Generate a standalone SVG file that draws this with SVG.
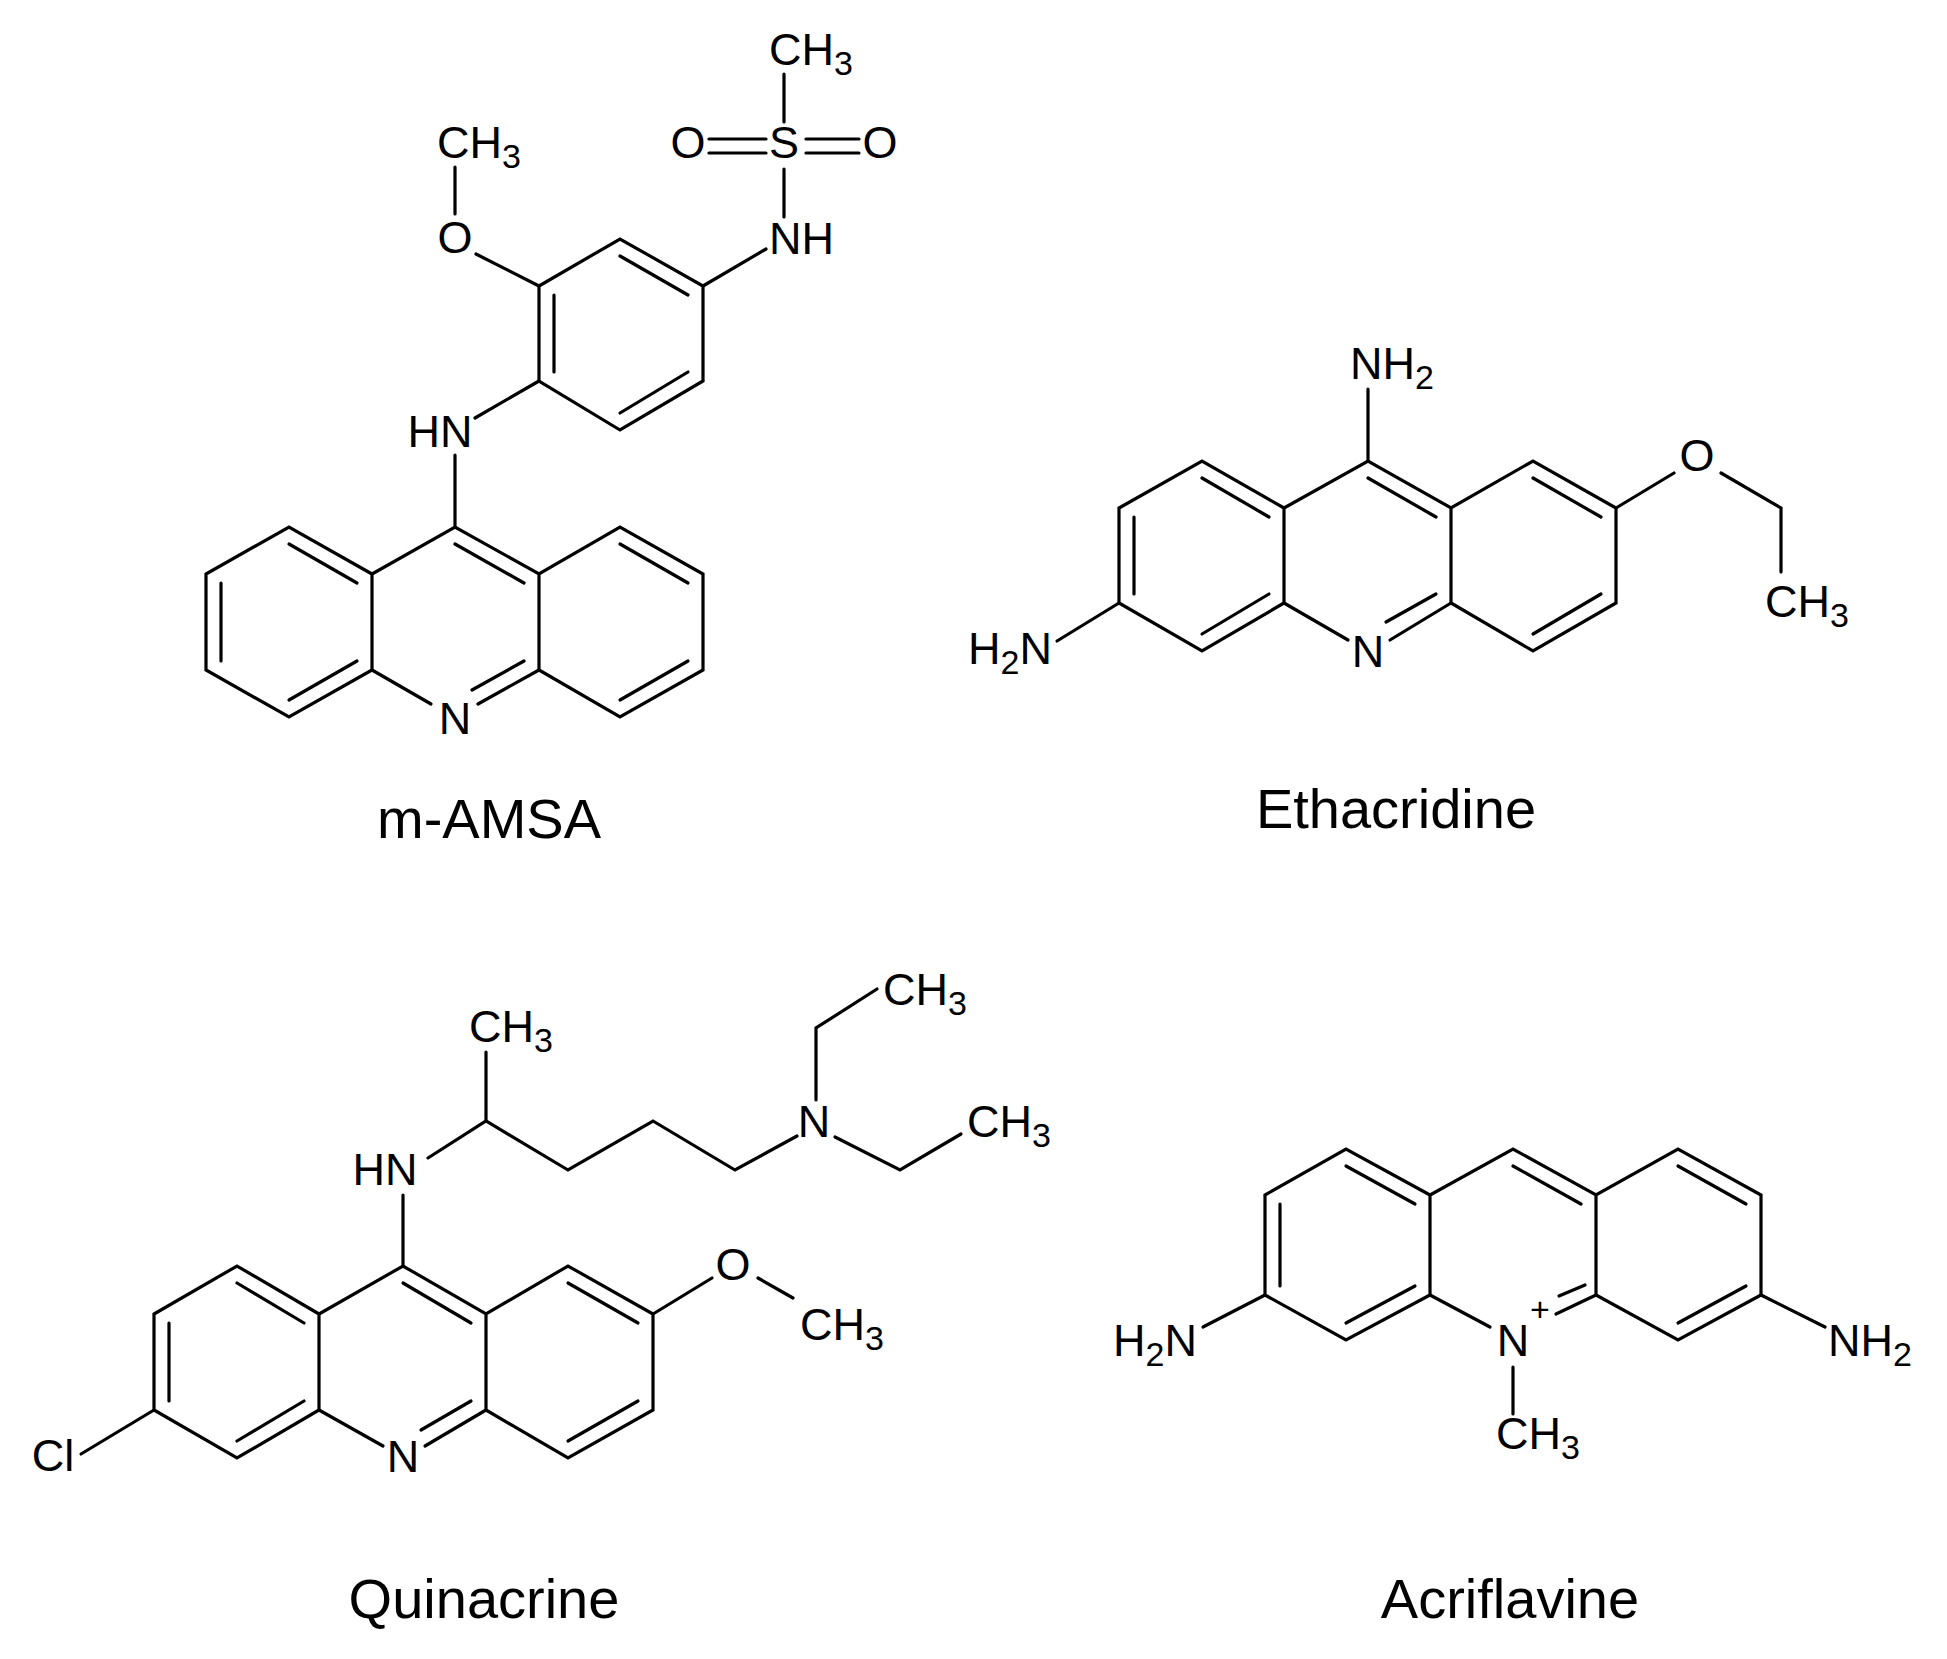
<svg xmlns="http://www.w3.org/2000/svg" width="1947" height="1659" viewBox="0 0 1947 1659">
<style>
line,polyline{stroke:#000;stroke-width:3.2;fill:none;stroke-linecap:round}
text{font-family:"Liberation Sans",Arial,sans-serif;font-size:45px;fill:#000}
.s{font-size:34px}
.t{font-size:56px;text-anchor:middle}
.m{text-anchor:middle}
.e{text-anchor:end}
</style>
<rect width="1947" height="1659" fill="#fff"/>
<g id="mamsa">
<g class="bonds">
<polyline points="372,574 289,527 206,574 206,670 289,717 372,670 372,574 455,527 539,574 620,527 703,574 703,670 620,717 539,670 539,574"/>
<line x1="372" y1="670" x2="431" y2="704"/><line x1="539" y1="670" x2="478" y2="704"/>
<line x1="289" y1="544" x2="357" y2="583"/><line x1="221" y1="583" x2="221" y2="661"/><line x1="289" y1="700" x2="357" y2="661"/>
<line x1="455" y1="544" x2="524" y2="583"/><line x1="472" y1="690" x2="524" y2="661"/>
<line x1="620" y1="544" x2="688" y2="583"/><line x1="688" y1="661" x2="620" y2="700"/>
<line x1="455" y1="527" x2="455" y2="455"/>
<polyline points="539,286 620,239 703,286 703,381 620,430 539,381 539,286"/>
<line x1="554" y1="295" x2="554" y2="372"/><line x1="620" y1="256" x2="688" y2="295"/><line x1="688" y1="372" x2="620" y2="413"/>
<line x1="475" y1="418" x2="539" y2="381"/>
<line x1="476" y1="254" x2="539" y2="286"/>
<line x1="455" y1="214" x2="455" y2="167"/>
<line x1="703" y1="286" x2="766" y2="249"/>
<line x1="784" y1="169" x2="784" y2="217"/><line x1="784" y1="122" x2="784" y2="74"/>
<line x1="709" y1="139" x2="766" y2="139"/><line x1="709" y1="153" x2="766" y2="153"/>
<line x1="806" y1="139" x2="859" y2="139"/><line x1="806" y1="153" x2="859" y2="153"/>
</g>
<text class="m" x="455" y="734">N</text>
<text class="m" x="440" y="447">HN</text>
<text class="m" x="455" y="253">O</text>
<text x="437" y="158">CH<tspan class="s" dy="10">3</tspan></text>
<text x="769" y="254">NH</text>
<text class="m" x="784" y="158">S</text>
<text class="m" x="688" y="158">O</text>
<text class="m" x="880" y="158">O</text>
<text x="769" y="65">CH<tspan class="s" dy="10">3</tspan></text>
<text class="t" x="489" y="838">m-AMSA</text>
</g>
<g id="ethacridine">
<polyline points="1284,508 1202,461 1119,508 1119,603 1202,651 1284,603 1284,508 1368,461 1451,508 1533,461 1616,508 1616,603 1533,651 1451,603 1451,508"/>
<line x1="1284" y1="603" x2="1348" y2="640"/><line x1="1451" y1="603" x2="1390" y2="640"/>
<line x1="1202" y1="478" x2="1269" y2="517"/><line x1="1134" y1="517" x2="1134" y2="594"/><line x1="1202" y1="634" x2="1269" y2="594"/>
<line x1="1368" y1="478" x2="1436" y2="517"/><line x1="1386" y1="622" x2="1436" y2="594"/>
<line x1="1533" y1="478" x2="1601" y2="517"/><line x1="1533" y1="634" x2="1601" y2="594"/>
<line x1="1368" y1="461" x2="1368" y2="389"/>
<line x1="1119" y1="603" x2="1057" y2="641"/>
<line x1="1616" y1="508" x2="1674" y2="473"/>
<polyline points="1721,473 1781,508 1781,572"/>
<text class="m" x="1368" y="667">N</text>
<text x="1350" y="379">NH<tspan class="s" dy="10">2</tspan></text>
<text class="e" x="1052" y="664">H<tspan class="s" dy="10">2</tspan><tspan dy="-10">N</tspan></text>
<text class="m" x="1697" y="471">O</text>
<text x="1765" y="617">CH<tspan class="s" dy="10">3</tspan></text>
<text class="t" x="1396" y="828">Ethacridine</text>
</g>
<g id="quinacrine">
<polyline points="319,1314 237,1266 154,1314 154,1410 237,1458 319,1410 319,1314 403,1266 486,1314 568,1266 653,1314 653,1410 568,1458 486,1410 486,1314"/>
<line x1="319" y1="1410" x2="383" y2="1446"/><line x1="486" y1="1410" x2="425" y2="1446"/>
<line x1="237" y1="1283" x2="304" y2="1323"/><line x1="169" y1="1323" x2="169" y2="1401"/><line x1="237" y1="1441" x2="304" y2="1401"/>
<line x1="403" y1="1283" x2="471" y2="1323"/><line x1="421" y1="1430" x2="471" y2="1401"/>
<line x1="568" y1="1283" x2="638" y2="1323"/><line x1="568" y1="1441" x2="638" y2="1401"/>
<line x1="154" y1="1410" x2="81" y2="1454"/>
<line x1="403" y1="1266" x2="403" y2="1195"/>
<polyline points="428,1158 486,1121 568,1170 653,1121 735,1170 797,1136"/>
<line x1="486" y1="1121" x2="486" y2="1052"/>
<polyline points="816,1100 816,1028 877,989"/>
<polyline points="835,1137 900,1170 961,1134"/>
<line x1="653" y1="1314" x2="712" y2="1278"/>
<line x1="758" y1="1278" x2="793" y2="1298"/>
<text class="m" x="403" y="1472">N</text>
<text class="m" x="53" y="1471">Cl</text>
<text class="m" x="385" y="1185">HN</text>
<text x="469" y="1042">CH<tspan class="s" dy="10">3</tspan></text>
<text class="m" x="814" y="1137">N</text>
<text x="883" y="1005">CH<tspan class="s" dy="10">3</tspan></text>
<text x="967" y="1137">CH<tspan class="s" dy="10">3</tspan></text>
<text class="m" x="733" y="1280">O</text>
<text x="800" y="1340">CH<tspan class="s" dy="10">3</tspan></text>
<text class="t" x="484" y="1618">Quinacrine</text>
</g>
<g id="acriflavine">
<polyline points="1430,1195 1346,1149 1265,1195 1265,1295 1346,1340 1430,1295 1430,1195 1513,1149 1596,1195 1678,1149 1761,1195 1761,1295 1678,1340 1596,1295 1596,1195"/>
<line x1="1430" y1="1295" x2="1490" y2="1327"/><line x1="1596" y1="1295" x2="1556" y2="1314"/>
<line x1="1346" y1="1166" x2="1415" y2="1204"/><line x1="1280" y1="1204" x2="1280" y2="1286"/><line x1="1346" y1="1323" x2="1415" y2="1286"/>
<line x1="1513" y1="1166" x2="1581" y2="1204"/><line x1="1585" y1="1285" x2="1559" y2="1296"/>
<line x1="1678" y1="1166" x2="1746" y2="1204"/><line x1="1746" y1="1286" x2="1678" y2="1323"/>
<line x1="1265" y1="1295" x2="1203" y2="1327"/>
<line x1="1761" y1="1295" x2="1825" y2="1327"/>
<line x1="1513" y1="1367" x2="1513" y2="1414"/>
<text class="m" x="1513" y="1356">N</text>
<text class="m s" x="1540" y="1321">+</text>
<text x="1496" y="1449">CH<tspan class="s" dy="10">3</tspan></text>
<text class="e" x="1197" y="1356">H<tspan class="s" dy="10">2</tspan><tspan dy="-10">N</tspan></text>
<text x="1828" y="1356">NH<tspan class="s" dy="10">2</tspan></text>
<text class="t" x="1510" y="1618">Acriflavine</text>
</g>
</svg>
